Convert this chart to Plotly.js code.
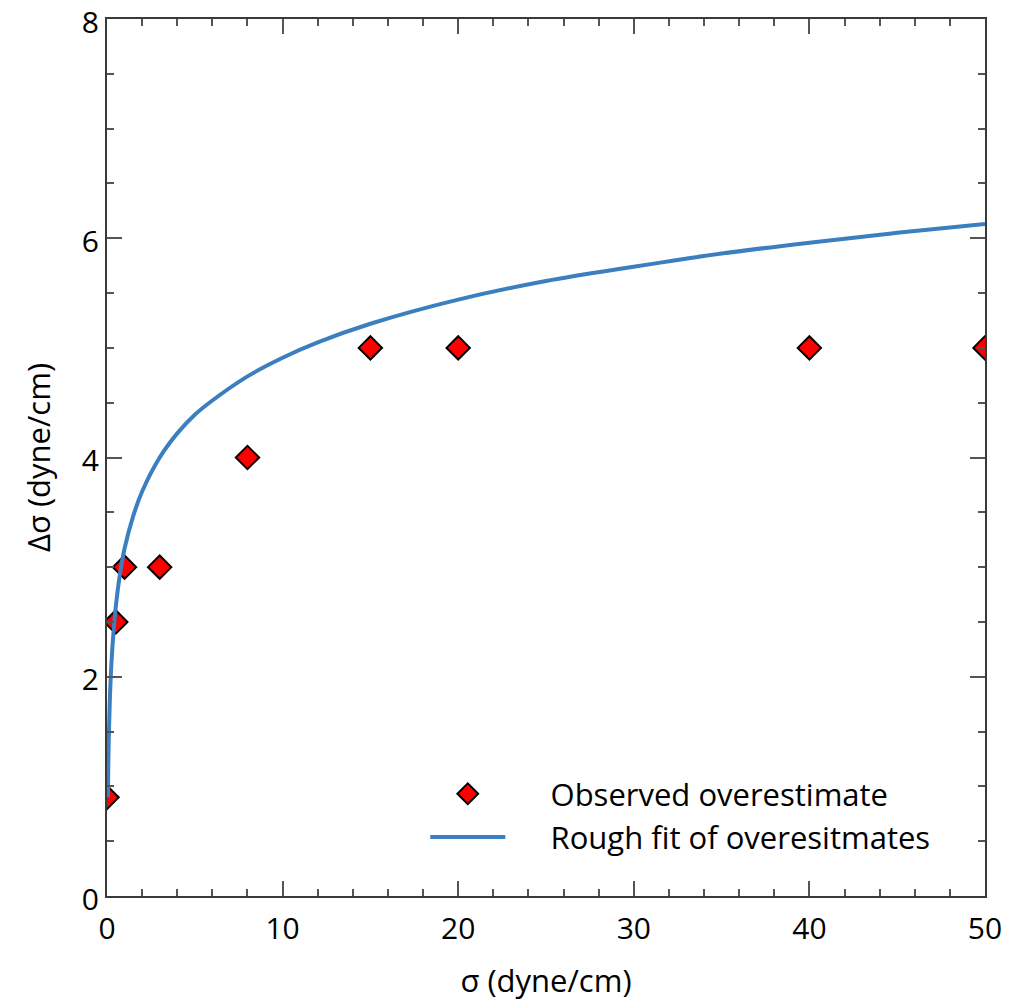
<!DOCTYPE html>
<html>
<head>
<meta charset="utf-8">
<script src="https://cdn.plot.ly/plotly-3.0.1.min.js"></script>
<style>
  html, body { margin: 0; padding: 0; background: #fff; }
  #chart { width: 1026px; height: 1001px; }
</style>
</head>
<body>
<div id="chart"></div>
<script>
// Observed overestimate of surface tension
const obsSigma = [0, 0.5, 1, 3, 8, 15, 20, 40, 50];
const obsDelta = [0.9, 2.5, 3, 3, 4, 5, 5, 5, 5];

// Rough fit curve, sampled along its length
const fitSigma = [0.05, 0.1, 0.2, 0.3, 0.5, 0.75, 1, 1.5, 2, 3, 4, 5, 6, 8, 10, 12, 15, 20, 25, 30, 35, 40, 45, 50];
const fitDelta = [0.9, 1.42, 1.95, 2.25, 2.64, 2.95, 3.17, 3.47, 3.69, 4.0, 4.22, 4.39, 4.52, 4.74, 4.91, 5.05, 5.22, 5.44, 5.61, 5.74, 5.86, 5.96, 6.05, 6.13];

const xTickVals = [0, 10, 20, 30, 40, 50];
const yTickVals = [0, 2, 4, 6, 8];

// gap between legend glyph and its label
const legendPad = '\u00a0'.repeat(5);

const traces = [
  {
    x: obsSigma,
    y: obsDelta,
    type: 'scatter',
    mode: 'markers',
    name: legendPad + 'Observed overestimate',
    marker: {
      symbol: 'diamond',
      size: 18,
      color: '#ff0000',
      line: { color: '#000000', width: 2 }
    }
  },
  {
    x: fitSigma,
    y: fitDelta,
    type: 'scatter',
    mode: 'lines',
    name: legendPad + 'Rough fit of overesitmates',
    line: { color: '#3b7fc1', width: 4, shape: 'spline' }
  }
];

const axisCommon = {
  showgrid: false,
  zeroline: false,
  showline: true,
  linecolor: '#3a3a3a',
  linewidth: 2,
  mirror: 'ticks',
  ticks: 'inside',
  ticklen: 15,
  tickwidth: 2,
  tickcolor: '#555555',
  ticklabeloverflow: 'allow',
  tickfont: { family: 'Open Sans, sans-serif', size: 30, color: '#000000' }
};

const titleFont = { family: 'Open Sans, sans-serif', size: 31, color: '#000000' };

const layout = {
  width: 1026,
  height: 1001,
  margin: { l: 107, r: 41, t: 19, b: 105 },
  paper_bgcolor: '#ffffff',
  plot_bgcolor: '#ffffff',
  xaxis: Object.assign({}, axisCommon, {
    range: [0, 50],
    tickvals: xTickVals,
    ticklabelstandoff: 5,
    minor: { dtick: 2, ticks: 'inside', ticklen: 7, tickwidth: 2, tickcolor: '#555555' },
    title: { text: 'σ (dyne/cm)', font: titleFont, standoff: 32 }
  }),
  yaxis: Object.assign({}, axisCommon, {
    range: [0, 8],
    tickvals: yTickVals,
    ticklabelshift: 3,
    minor: { dtick: 0.5, ticks: 'inside', ticklen: 7, tickwidth: 2, tickcolor: '#555555' },
    title: { text: 'Δσ (dyne/cm)', font: titleFont, standoff: 22 }
  }),
  showlegend: true,
  legend: {
    x: 0.3625,
    y: 0.147,
    xanchor: 'left',
    yanchor: 'top',
    bgcolor: 'rgba(0,0,0,0)',
    borderwidth: 0,
    itemwidth: 75,
    font: { family: 'Open Sans, sans-serif', size: 31, color: '#000000' }
  }
};

Plotly.newPlot('chart', traces, layout, { displayModeBar: false, staticPlot: true });
</script>
</body>
</html>
